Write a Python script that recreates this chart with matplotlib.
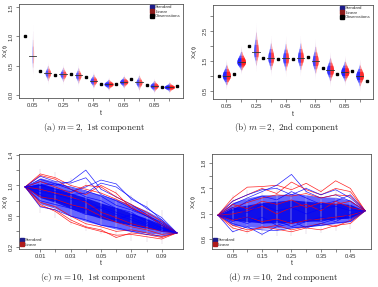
import numpy as np
import matplotlib
matplotlib.use("Agg")
import matplotlib.pyplot as plt
from matplotlib.lines import Line2D

plt.rcParams['font.family'] = ['Liberation Sans', 'DejaVu Sans']
plt.rcParams['mathtext.fontset'] = 'cm'

# ---- panel (a) / (b): m = 2 ----
obs_t = [0.0, 0.1, 0.2, 0.3, 0.4, 0.5, 0.6, 0.7, 0.8, 0.9, 1.0]
obs_a = [1.00, 0.40, 0.34, 0.35, 0.30, 0.18, 0.18, 0.27, 0.17, 0.13, 0.14]
obs_b = [0.99, 1.06, 1.99, 1.61, 1.56, 1.56, 1.63, 1.27, 1.06, 1.17, 0.84]

vio_t = [0.05, 0.15, 0.25, 0.35, 0.45, 0.55, 0.65, 0.75, 0.85, 0.95]
med_a = [0.66, 0.37, 0.35, 0.33, 0.24, 0.18, 0.22, 0.21, 0.15, 0.13]
sdlo_a = [0.15, 0.065, 0.06, 0.065, 0.055, 0.04, 0.045, 0.06, 0.045, 0.035]
sdup_a = [0.22, 0.065, 0.06, 0.065, 0.055, 0.04, 0.045, 0.06, 0.045, 0.035]
med_b = [1.01, 1.46, 1.80, 1.60, 1.58, 1.60, 1.49, 1.20, 1.13, 1.01]
sdlo_b = [0.15, 0.13, 0.22, 0.20, 0.20, 0.20, 0.20, 0.18, 0.15, 0.17]
sdup_b = [0.18, 0.18, 0.33, 0.25, 0.25, 0.25, 0.25, 0.20, 0.18, 0.18]

ab_xticks = [0.05, 0.15, 0.25, 0.35, 0.45, 0.55, 0.65, 0.75, 0.85, 0.95]
ab_xlabels = ['0.05', '', '0.25', '', '0.45', '', '0.65', '', '0.85', '']
a_yticks = [0.0, 0.5, 1.0, 1.5]
a_ylabels = ['0.0', '0.5', '1.0', '1.5']
b_yticks = [0.5, 1.0, 1.5, 2.0, 2.5, 3.0]
b_ylabels = ['0.5', '', '1.5', '', '2.5', '']

# ---- panel (c): m = 10, 1st component ----
t_c = [0.0, 0.01, 0.02, 0.03, 0.04, 0.05, 0.06, 0.07, 0.08, 0.09, 0.10]
c_in_lo = [0.98, 0.84, 0.78, 0.70, 0.63, 0.57, 0.52, 0.48, 0.44, 0.41, 0.38]
c_in_hi = [0.98, 1.03, 0.97, 0.90, 0.84, 0.77, 0.71, 0.64, 0.57, 0.49, 0.38]
c_out_lo = [0.98, 0.76, 0.70, 0.60, 0.53, 0.48, 0.43, 0.40, 0.38, 0.36, 0.38]
c_out_hi = [0.98, 1.10, 1.05, 0.98, 0.93, 0.88, 0.82, 0.75, 0.67, 0.56, 0.38]
c_blue = [
    [0.98, 1.05, 1.00, 1.05, 1.20, 0.95, 0.85, 0.75, 0.62, 0.50, 0.38],
    [0.98, 1.00, 0.95, 0.92, 0.98, 1.07, 1.02, 0.82, 0.72, 0.55, 0.38],
    [0.98, 0.95, 0.92, 0.88, 0.90, 1.03, 0.98, 0.84, 0.70, 0.58, 0.38],
    [0.98, 1.12, 1.05, 1.03, 1.10, 0.88, 0.80, 0.70, 0.60, 0.48, 0.38],
    [0.98, 0.80, 0.75, 0.70, 0.62, 0.60, 0.55, 0.62, 0.55, 0.45, 0.38],
    [0.98, 0.88, 0.80, 0.74, 0.68, 0.72, 0.65, 0.58, 0.50, 0.42, 0.38],
    [0.98, 1.08, 1.02, 0.95, 0.85, 0.80, 0.70, 0.65, 0.52, 0.44, 0.38],
    [0.98, 0.72, 0.68, 0.60, 0.55, 0.48, 0.45, 0.40, 0.36, 0.34, 0.38],
    [0.98, 0.92, 0.88, 0.82, 0.80, 0.70, 0.62, 0.55, 0.48, 0.40, 0.38],
    [0.98, 1.00, 1.02, 0.98, 0.93, 0.86, 0.74, 0.68, 0.60, 0.52, 0.38],
]
c_red = [
    [0.98, 1.15, 1.10, 1.00, 0.95, 0.90, 0.82, 0.72, 0.60, 0.50, 0.38],
    [0.98, 1.13, 1.08, 0.95, 0.88, 1.00, 0.90, 0.70, 0.62, 0.48, 0.38],
    [0.98, 0.73, 0.68, 0.55, 0.46, 0.42, 0.32, 0.38, 0.36, 0.32, 0.38],
    [0.98, 0.75, 0.66, 0.52, 0.45, 0.40, 0.35, 0.36, 0.33, 0.30, 0.38],
    [0.98, 0.78, 0.72, 0.60, 0.50, 0.46, 0.40, 0.42, 0.38, 0.33, 0.38],
    [0.98, 0.95, 0.90, 0.85, 0.78, 0.65, 0.58, 0.50, 0.45, 0.40, 0.38],
    [0.98, 1.05, 0.98, 0.90, 1.00, 0.98, 0.85, 0.75, 0.65, 0.53, 0.38],
    [0.98, 0.85, 0.82, 0.75, 0.70, 0.60, 0.52, 0.46, 0.42, 0.36, 0.38],
]
c_xticks = [0.01, 0.02, 0.03, 0.04, 0.05, 0.06, 0.07, 0.08, 0.09]
c_xlabels = ['0.01', '', '0.03', '', '0.05', '', '0.07', '', '0.09']
c_yticks = [0.2, 0.4, 0.6, 0.8, 1.0, 1.2, 1.4]
c_ylabels = ['0.2', '', '0.6', '', '1.0', '', '1.4']

# ---- panel (d): m = 10, 2nd component ----
t_d = [0.0, 0.05, 0.10, 0.15, 0.20, 0.25, 0.30, 0.35, 0.40, 0.45, 0.50]
d_in_lo = [0.98, 0.90, 0.88, 0.86, 0.86, 0.86, 0.88, 0.90, 0.92, 0.94, 1.05]
d_in_hi = [0.98, 1.10, 1.14, 1.18, 1.20, 1.22, 1.20, 1.18, 1.17, 1.15, 1.05]
d_out_lo = [0.98, 0.82, 0.80, 0.78, 0.78, 0.78, 0.80, 0.82, 0.85, 0.88, 1.05]
d_out_hi = [0.98, 1.18, 1.25, 1.30, 1.30, 1.32, 1.30, 1.27, 1.26, 1.22, 1.05]
d_blue = [
    [0.98, 1.15, 1.25, 1.35, 1.45, 1.62, 1.35, 1.25, 1.30, 1.20, 1.05],
    [0.98, 0.72, 0.80, 0.68, 0.80, 0.85, 0.90, 0.88, 0.95, 0.92, 1.05],
    [0.98, 1.20, 1.30, 1.38, 1.40, 1.30, 1.40, 1.30, 1.38, 1.25, 1.05],
    [0.98, 0.85, 0.78, 0.75, 0.74, 0.78, 0.80, 0.82, 0.86, 0.88, 1.05],
    [0.98, 1.05, 1.20, 1.28, 1.22, 1.35, 1.25, 1.15, 1.20, 1.30, 1.05],
    [0.98, 0.92, 0.85, 0.95, 0.82, 0.90, 0.78, 0.85, 0.92, 0.95, 1.05],
    [0.98, 1.10, 1.02, 1.15, 1.05, 1.10, 1.00, 1.08, 1.12, 1.05, 1.05],
    [0.98, 0.88, 0.95, 0.85, 0.90, 0.80, 0.88, 0.95, 0.88, 1.00, 1.05],
]
d_red = [
    [0.98, 1.25, 1.42, 1.43, 1.45, 1.38, 1.48, 1.35, 1.52, 1.40, 1.05],
    [0.98, 1.20, 1.30, 1.40, 1.32, 1.50, 1.38, 1.30, 1.40, 1.35, 1.05],
    [0.98, 0.78, 0.72, 0.80, 0.76, 0.72, 0.78, 0.75, 0.82, 0.85, 1.05],
    [0.98, 0.82, 0.75, 0.78, 0.82, 0.75, 0.80, 0.85, 0.80, 0.90, 1.05],
    [0.98, 1.10, 1.18, 1.25, 1.30, 1.28, 1.32, 1.25, 1.30, 1.28, 1.05],
    [0.98, 1.00, 1.05, 1.12, 1.00, 1.10, 1.15, 1.05, 1.20, 1.10, 1.05],
    [0.98, 0.90, 0.95, 0.88, 0.92, 0.85, 0.90, 0.92, 0.95, 0.98, 1.05],
    [0.98, 1.15, 1.08, 1.20, 1.15, 1.22, 1.10, 1.18, 1.15, 1.20, 1.05],
]
d_xticks = [0.05, 0.10, 0.15, 0.20, 0.25, 0.30, 0.35, 0.40, 0.45]
d_xlabels = ['0.05', '', '0.15', '', '0.25', '', '0.35', '', '0.45']
d_yticks = [0.6, 0.8, 1.0, 1.2, 1.4, 1.6, 1.8]
d_ylabels = ['0.6', '', '1.0', '', '1.4', '', '1.8']

BLUE = '#0000ff'
RED = '#ff0000'
W, H = 378, 287


def px_axes(l, t, r, b):
    return fig.add_axes([l / W, 1 - b / H, (r - l) / W, (b - t) / H])


def style(ax, xt, xl, yt, yls, ylab, ylab_x, tlab_y):
    for s in ax.spines.values():
        s.set_color('#555555')
        s.set_linewidth(0.6)
    ax.set_xticks(xt, xl)
    ax.set_yticks(yt, yls)
    ax.tick_params(length=2.5, width=0.5, color='#555555', labelsize=4.2,
                   labelcolor='#333333', pad=1)
    ax.tick_params(axis='y', labelrotation=90, pad=1.5)
    for lab in ax.get_yticklabels():
        lab.set_va('center')
    ax.set_xlabel('t', fontsize=5, color='#333333')
    ax.xaxis.set_label_coords(0.5, tlab_y)
    ax.set_ylabel(r'$\mathregular{' + ylab + '}$', fontsize=4.6, color='#333333')
    ax.yaxis.set_label_coords(ylab_x, 0.5)


def half_violin(ax, x0, med, s_lo, s_up, k, side, color, fade):
    ys = np.linspace(med - 3 * s_lo, med + 3 * s_up, 90)
    s = np.where(ys < med, s_lo, s_up)
    half = k / ((s_lo + s_up) / 2) * np.exp(-0.5 * ((ys - med) / s) ** 2)
    for cut, a in [(3.0, 0.2), (2.0, 0.3), (1.3, 0.45), (0.8, 0.6)]:
        m = (ys >= med - cut * s_lo) & (ys <= med + cut * s_up)
        ax.fill_betweenx(ys[m], x0, x0 + side * half[m], color=color,
                         alpha=a * fade, lw=0)


def violin_panel(ax, obs, med, sdlo, sdup, k):
    spread = [(lo + up) / 2 for lo, up in zip(sdlo, sdup)]
    for x0, m, lo, up, sp in zip(vio_t, med, sdlo, sdup, spread):
        fade = (min(spread) / sp) ** 0.9
        half_violin(ax, x0, m, lo, up, k, -1, BLUE, fade)
        half_violin(ax, x0, m, lo, up, k, 1, RED, fade)
        ax.plot([x0 - 0.024, x0 + 0.024], [m, m], color='#333333', lw=0.6)
    ax.plot(obs_t, obs, 's', color='black', ms=2.0, ls='')
    handles = [Line2D([], [], marker='s', ls='', color='#1c1c8a', ms=2.2),
               Line2D([], [], marker='s', ls='', color='#8b1c1c', ms=2.2),
               Line2D([], [], marker='s', ls='', color='black', ms=2.2)]
    leg = ax.legend(handles, ['Standard', 'Linear', 'Observations'], loc='upper right',
                    bbox_to_anchor=(0.99, 0.99), fontsize=3.2, frameon=False,
                    handlelength=0.5, handletextpad=0.4, labelspacing=0.05,
                    borderpad=0.1, borderaxespad=0)
    for txt in leg.get_texts():
        txt.set_color('#333333')


def path_panel(ax, t, in_lo, in_hi, out_lo, out_hi, blue, red):
    ax.vlines(t[1:-1], np.array(out_lo[1:-1]) - 0.12, np.array(out_hi[1:-1]) + 0.12,
              color='#d8c8d8', lw=1.2, alpha=0.3)
    ax.fill_between(t, out_lo, out_hi, color=BLUE, alpha=0.6, lw=0)
    ax.fill_between(t, in_lo, in_hi, color='#0000e8', alpha=0.85, lw=0)
    for i, p in enumerate(red):
        ax.plot(t, p, color=RED, lw=0.5, alpha=0.85)
        if i < len(blue):
            ax.plot(t, blue[i], color=BLUE, lw=0.5, alpha=0.85)
    for p in blue[len(red):]:
        ax.plot(t, p, color=BLUE, lw=0.5, alpha=0.85)
    handles = [Line2D([], [], marker='s', ls='', color='#1c1c8a', ms=2.2),
               Line2D([], [], marker='s', ls='', color='#b01c1c', ms=2.2)]
    leg = ax.legend(handles, ['Standard', 'Linear'], loc='lower left',
                    bbox_to_anchor=(0.01, 0.02), fontsize=3.2, frameon=False,
                    handlelength=0.5, handletextpad=0.4, labelspacing=0.05,
                    borderpad=0.1, borderaxespad=0)
    for txt in leg.get_texts():
        txt.set_color('#333333')


fig = plt.figure(figsize=(3.78, 2.87), dpi=100)

ax_a = px_axes(19, 4, 183, 98)
violin_panel(ax_a, obs_a, med_a, sdlo_a, sdup_a, 0.0012)
ax_a.set_xlim(-0.04, 1.04)
ax_a.set_ylim(-0.06, 1.56)
style(ax_a, ab_xticks, ab_xlabels, a_yticks, a_ylabels, 'X_1(t)', -0.056, -0.13)

ax_b = px_axes(213, 5, 373, 99)
violin_panel(ax_b, obs_b, med_b, sdlo_b, sdup_b, 0.0045)
ax_b.set_xlim(-0.04, 1.04)
ax_b.set_ylim(0.23, 3.36)
style(ax_b, ab_xticks, ab_xlabels, b_yticks, b_ylabels, 'X_2(t)', -0.09, -0.13)

ax_c = px_axes(19, 154, 183, 249)
path_panel(ax_c, t_c, c_in_lo, c_in_hi, c_out_lo, c_out_hi, c_blue, c_red)
ax_c.set_xlim(-0.004, 0.104)
ax_c.set_ylim(0.17, 1.41)
style(ax_c, c_xticks, c_xlabels, c_yticks, c_ylabels, 'X_1(t)', -0.056, -0.12)

ax_d = px_axes(212, 154, 371, 249)
path_panel(ax_d, t_d, d_in_lo, d_in_hi, d_out_lo, d_out_hi, d_blue, d_red)
ax_d.set_xlim(-0.02, 0.52)
ax_d.set_ylim(0.45, 1.94)
style(ax_d, d_xticks, d_xlabels, d_yticks, d_ylabels, 'X_2(t)', -0.09, -0.12)

captions = [(94, 128, r'$\mathrm{(a)}\ m = 2,\ \mathrm{1st\ component}$'),
            (287, 128, r'$\mathrm{(b)}\ m = 2,\ \mathrm{2nd\ component}$'),
            (93, 277, r'$\mathrm{(c)}\ m = 10,\ \mathrm{1st\ component}$'),
            (283, 277, r'$\mathrm{(d)}\ m = 10,\ \mathrm{2nd\ component}$')]
for x, y, s in captions:
    fig.text(x / W, 1 - y / H, s, ha='center', va='center', fontsize=6.5, color='#222222')

fig.savefig('out.png', dpi=100)
